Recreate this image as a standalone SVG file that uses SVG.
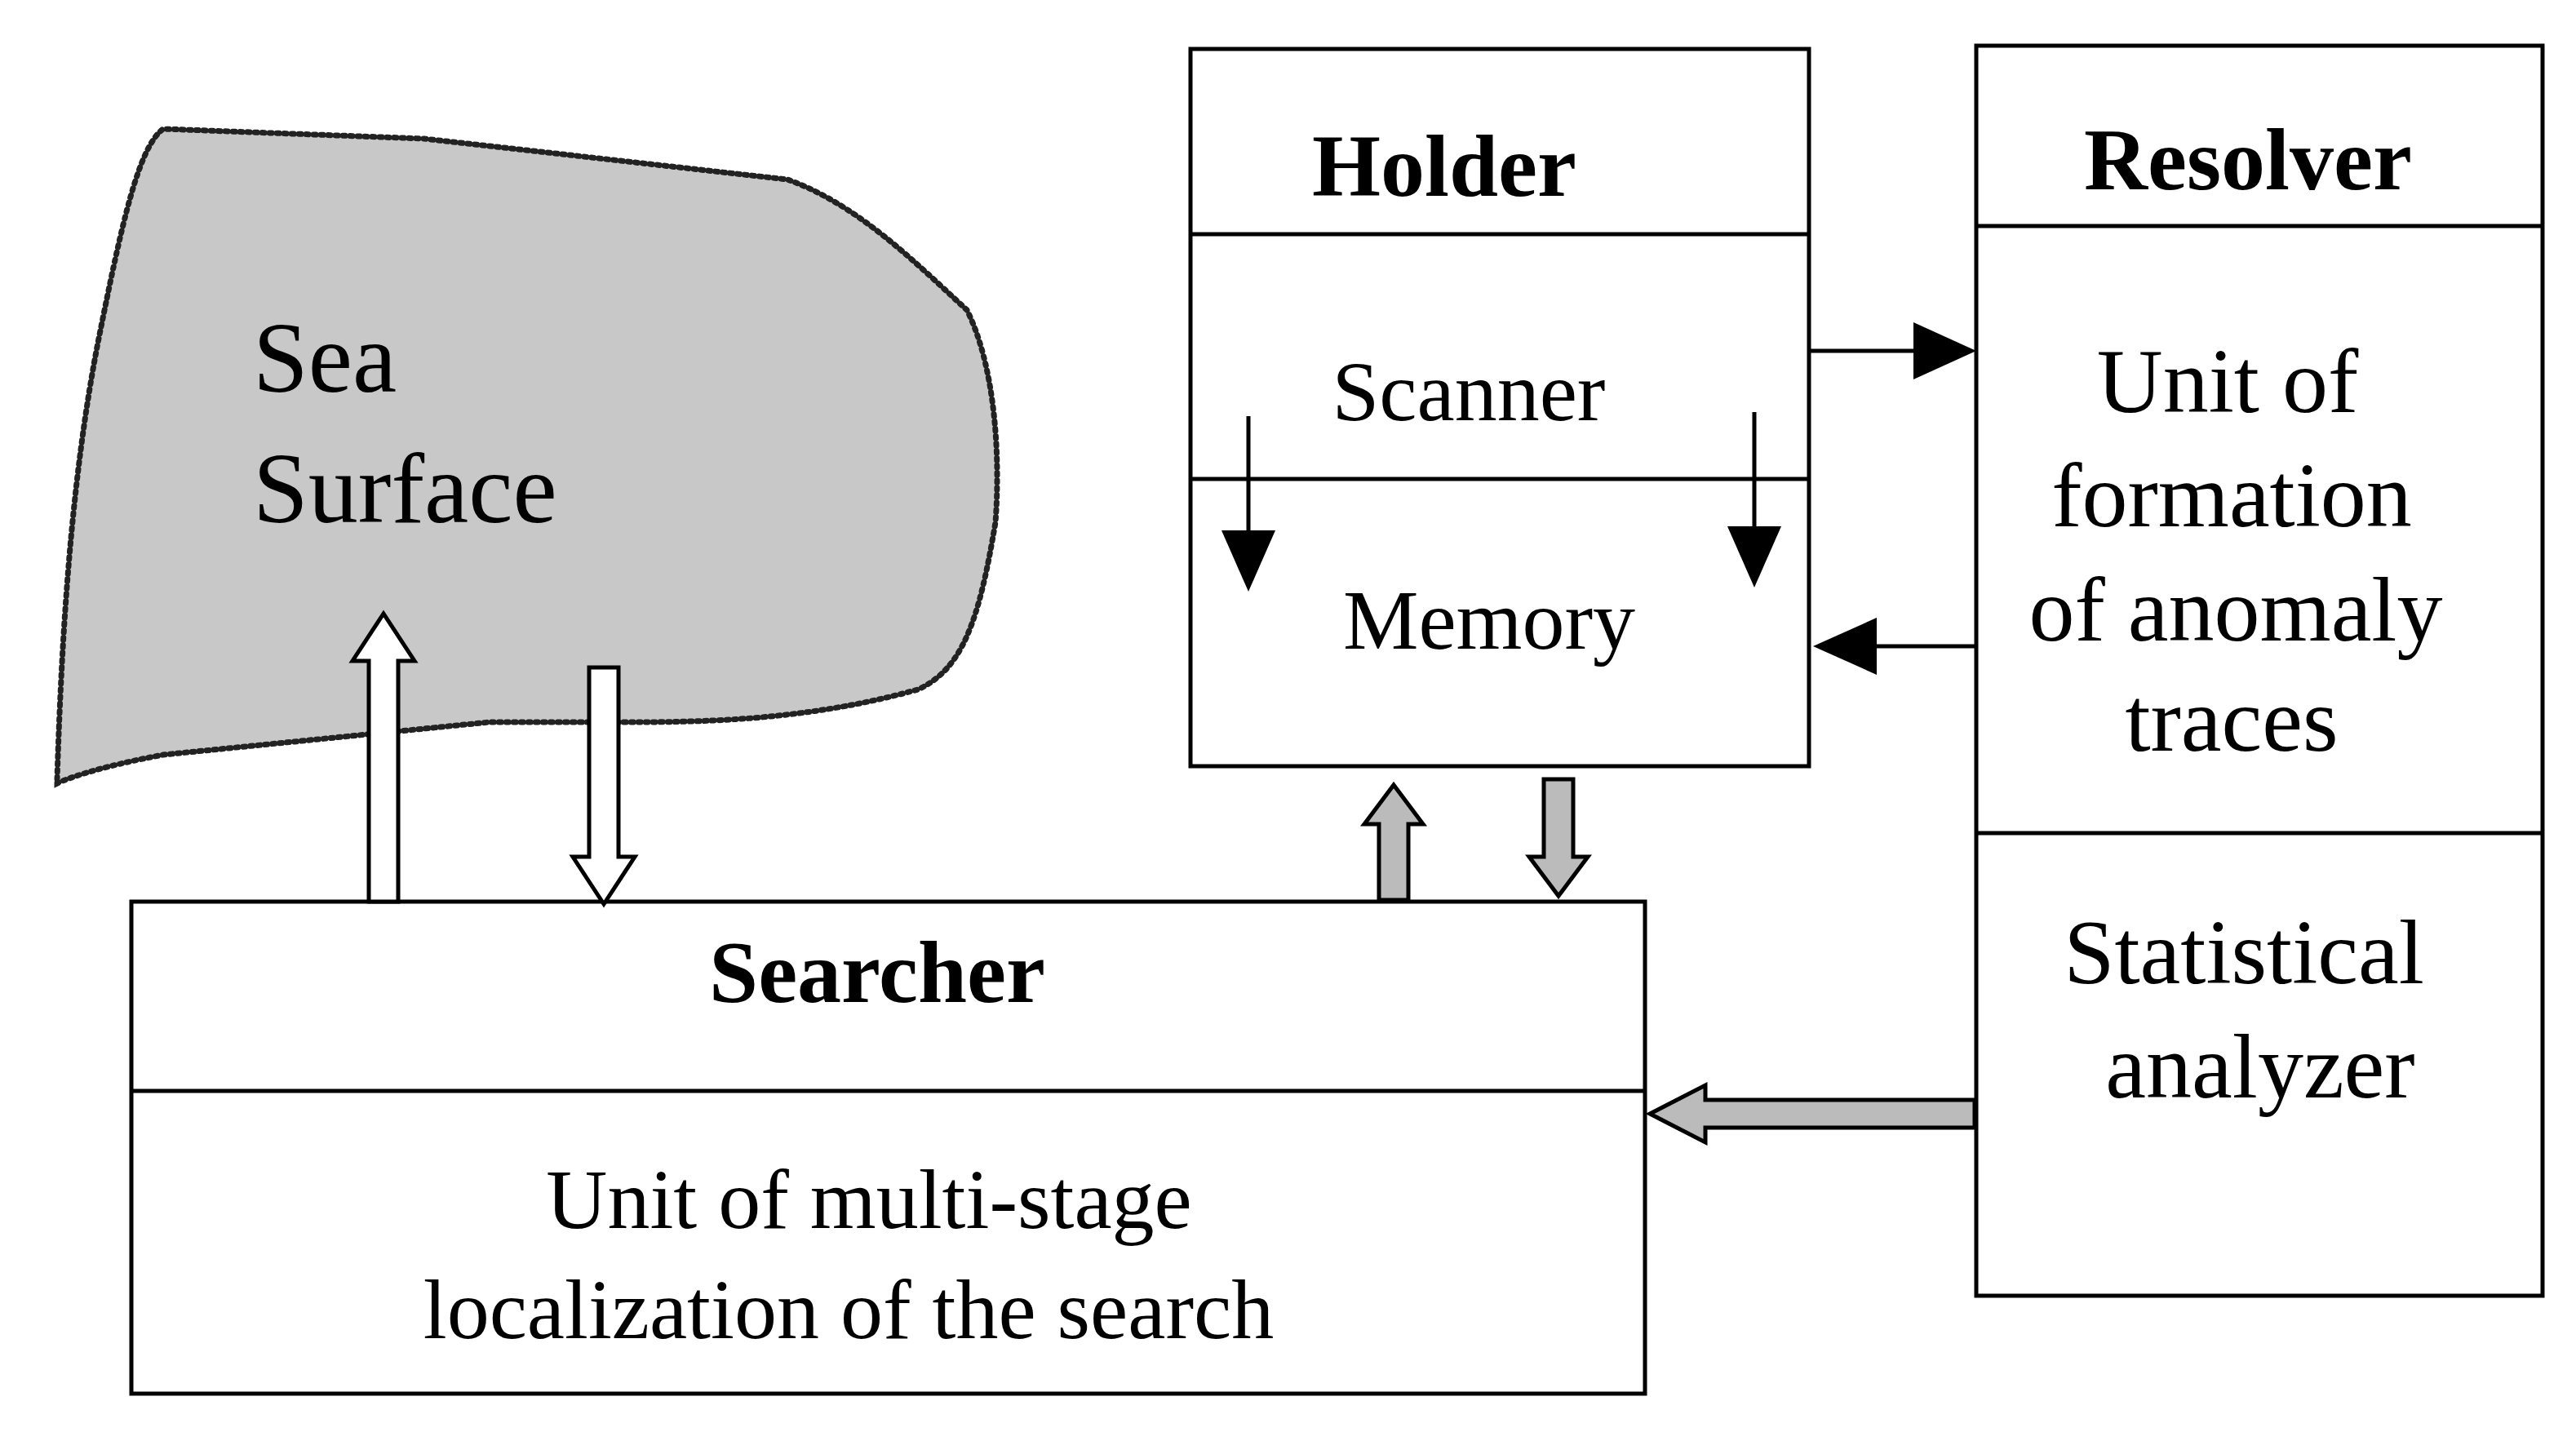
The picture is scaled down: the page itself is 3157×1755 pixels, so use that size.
<svg xmlns="http://www.w3.org/2000/svg" width="3157" height="1755" viewBox="0 0 3157 1755">
<style>
.box{fill:#fff;stroke:#000;stroke-width:5}
.ln{stroke:#000;stroke-width:5}
text{font-family:"Liberation Serif",serif;fill:#000;text-anchor:middle}
.t{font-size:104px}
.b{font-size:108px;font-weight:bold}
</style>
<rect width="3157" height="1755" fill="#fff"/>
<g id="sea">
<path d="M70,955 C75,800 85,600 120,420 C150,270 170,180 200,158 L520,170 L760,197 L965,220 C1050,250 1120,320 1185,380 C1220,450 1226,560 1220,640 C1200,760 1180,820 1125,845 C1000,880 880,885 780,885 L600,885 L400,905 L200,925 C120,940 80,955 70,960 Z" fill="#c8c8c8" stroke="#222" stroke-width="7" stroke-dasharray="3,6" stroke-linecap="round"/>
<text x="310" y="480" style="text-anchor:start;font-size:122px">Sea</text>
<text x="310" y="640" style="text-anchor:start;font-size:122px">Surface</text>
</g>
<g id="holder">
<rect class="box" x="1459" y="60" width="758" height="879"/>
<line class="ln" x1="1459" y1="287" x2="2217" y2="287"/>
<line class="ln" x1="1459" y1="587" x2="2217" y2="587"/>
<text class="b" x="1770" y="240">Holder</text>
<text class="t" x="1800" y="515">Scanner</text>
<text class="t" x="1825" y="795">Memory</text>
</g>
<g id="resolver">
<rect class="box" x="2422" y="56" width="694" height="1532"/>
<line class="ln" x1="2422" y1="277" x2="3116" y2="277"/>
<line class="ln" x1="2422" y1="1021" x2="3116" y2="1021"/>
<text class="b" x="2755" y="232">Resolver</text>
<text x="2730" y="505" style="font-size:112px">Unit of</text>
<text x="2735" y="645" style="font-size:112px">formation</text>
<text x="2740" y="785" style="font-size:112px">of anomaly</text>
<text x="2735" y="920" style="font-size:112px">traces</text>
<text x="2750" y="1205" style="font-size:112px">Statistical</text>
<text x="2770" y="1345" style="font-size:112px">analyzer</text>
</g>
<g id="searcher">
<rect class="box" x="161" y="1105" width="1855" height="603"/>
<line class="ln" x1="161" y1="1337" x2="2016" y2="1337"/>
<text class="b" x="1075" y="1228">Searcher</text>
<text class="t" x="1065" y="1505">Unit of multi-stage</text>
<text class="t" x="1040" y="1640">localization of  the search</text>
</g>
<g id="connectors">
<line class="ln" x1="2217" y1="430" x2="2350" y2="430" stroke-width="6"/>
<path d="M2345,395L2422,430L2345,465z"/>
<line class="ln" x1="2422" y1="792" x2="2300" y2="792" stroke-width="6"/>
<path d="M2300,757L2222,792L2300,827z"/>
<line class="ln" x1="1530" y1="510" x2="1530" y2="660" stroke-width="4"/>
<path d="M1497,650L1530,725L1563,650z"/>
<line class="ln" x1="2150" y1="505" x2="2150" y2="655" stroke-width="4"/>
<path d="M2117,645L2150,720L2183,645z"/>
<path d="M452,1105L452,810L432,810L470,752L508,810L488,810L488,1105z" fill="#fff" stroke="#000" stroke-width="5"/>
<path d="M722,818L722,1050L702,1050L740,1108L778,1050L758,1050L758,818z" fill="#fff" stroke="#000" stroke-width="5"/>
<path d="M1690,1103L1690,1010L1672,1010L1708,962L1744,1010L1726,1010L1726,1103z" fill="#bbb" stroke="#000" stroke-width="5"/>
<path d="M1892,955L1892,1050L1874,1050L1910,1098L1946,1050L1928,1050L1928,955z" fill="#bbb" stroke="#000" stroke-width="5"/>
<path d="M2420,1348L2090,1348L2090,1330L2022,1365L2090,1400L2090,1382L2420,1382z" fill="#bbb" stroke="#000" stroke-width="5"/>
</g>
</svg>
